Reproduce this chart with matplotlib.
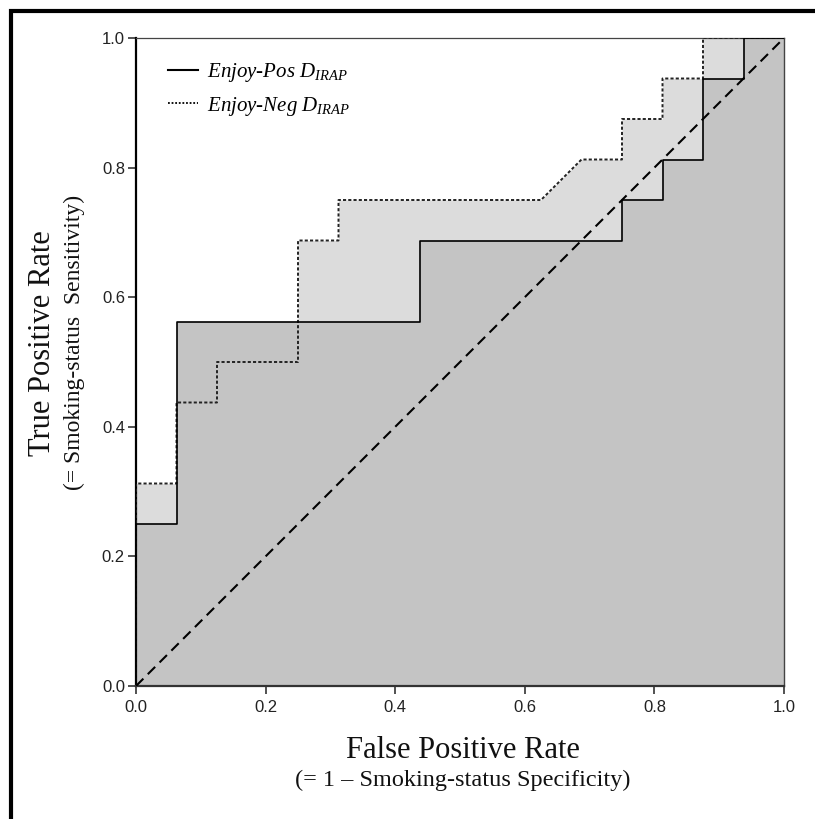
import matplotlib
matplotlib.use("Agg")
import matplotlib.pyplot as plt
from matplotlib.lines import Line2D
from matplotlib.patches import Rectangle

plt.rcParams['mathtext.fontset'] = 'custom'
plt.rcParams['mathtext.it'] = 'Liberation Serif:italic'
plt.rcParams['mathtext.rm'] = 'Liberation Serif'

# ROC curve data (16 negatives / 16 positives -> steps of 1/16)
fpr_pos = [0, 0, 0.0625, 0.0625, 0.4375, 0.4375, 0.75, 0.75, 0.8125, 0.8125,
           0.875, 0.875, 0.9375, 0.9375, 1.0]
tpr_pos = [0, 0.25, 0.25, 0.5625, 0.5625, 0.6875, 0.6875, 0.75, 0.75, 0.8125,
           0.8125, 0.9375, 0.9375, 1.0, 1.0]

fpr_neg = [0, 0, 0.0625, 0.0625, 0.125, 0.125, 0.25, 0.25, 0.3125, 0.3125,
           0.625, 0.6875, 0.75, 0.75, 0.8125, 0.8125, 0.875, 0.875, 1.0]
tpr_neg = [0, 0.3125, 0.3125, 0.4375, 0.4375, 0.5, 0.5, 0.6875, 0.6875, 0.75,
           0.75, 0.8125, 0.8125, 0.875, 0.875, 0.9375, 0.9375, 1.0, 1.0]

ref_line = [0, 1]
ticks = [0.0, 0.2, 0.4, 0.6, 0.8, 1.0]
tick_labels = ["0.0", "0.2", "0.4", "0.6", "0.8", "1.0"]
labels = ["Enjoy-Pos $D_{IRAP}$", "Enjoy-Neg $D_{IRAP}$"]

W, H = 815, 819
fig = plt.figure(figsize=(W / 100, H / 100), dpi=100)
ax = fig.add_axes([136 / W, (H - 686) / H, 648 / W, 648 / H])

ax.fill_between(fpr_neg, tpr_neg, 0, color='#dcdcdc', lw=0, zorder=1)
ax.fill_between(fpr_pos, tpr_pos, 0, color='#c4c4c4', lw=0, zorder=2)

ax.plot(ref_line, ref_line, color='black', lw=1.5, dashes=(5, 3), zorder=3)
ax.plot(fpr_neg, tpr_neg, color='#222222', lw=1.4, dashes=(1.6, 1.1), zorder=4)
ax.plot(fpr_pos, tpr_pos, color='black', lw=1.2, zorder=5)

ax.set_xlim(0, 1)
ax.set_ylim(0, 1)
ax.set_xticks(ticks)
ax.set_xticklabels(tick_labels)
ax.set_yticks(ticks)
ax.set_yticklabels(tick_labels)
ax.tick_params(axis='both', direction='out', length=6, width=1.2, color='#333333',
               labelsize=12, labelcolor='#222222', pad=2)
ax.tick_params(axis='x', pad=4)
for lab in ax.get_xticklabels() + ax.get_yticklabels():
    lab.set_family('Liberation Sans')

ax.spines['left'].set_color('black')
ax.spines['left'].set_linewidth(1.6)
ax.spines['bottom'].set_color('#333333')
ax.spines['bottom'].set_linewidth(1.6)
ax.spines['top'].set_color('#444444')
ax.spines['top'].set_linewidth(0.9)
ax.spines['right'].set_color('#444444')
ax.spines['right'].set_linewidth(1.0)
ax.set_facecolor('white')

# Axis titles
fig.text(463 / W, 1 - 750 / H, "False Positive Rate", family='Liberation Serif',
         fontsize=22, ha='center', va='center', color='#111111')
fig.text(463 / W, 1 - 780 / H, "(= 1 \u2013 Smoking-status Specificity)",
         family='Liberation Serif', fontsize=17.5, ha='center', va='center',
         color='#111111')
fig.text(43 / W, 1 - 343 / H, "True Positive Rate", family='Liberation Serif',
         fontsize=22, ha='center', va='center', rotation=90, color='#111111')
fig.text(74 / W, 1 - 342 / H, "(= Smoking-status  Sensitivity)",
         family='Liberation Serif', fontsize=17, ha='center', va='center',
         rotation=90, color='#111111')

handles = [Line2D([], [], color='black', lw=1.5),
           Line2D([], [], color='black', lw=1.3, linestyle=(0, (1, 1)))]
leg = ax.legend(handles, labels, loc='upper left', frameon=False,
                bbox_to_anchor=(0.0205, 0.993), handlelength=1.44,
                handletextpad=0.43, labelspacing=0.5,
                prop={'family': 'Liberation Serif', 'style': 'italic', 'size': 15})
leg.set_zorder(10)

# Outer frame (cropped at right and bottom)
fig.add_artist(Rectangle((10.5 / W, -0.2), 1.5, 1.2 - 11.3 / H,
                         transform=fig.transFigure, fill=False,
                         edgecolor='black', lw=3.0, clip_on=False))

fig.savefig("out.png", dpi=100)
